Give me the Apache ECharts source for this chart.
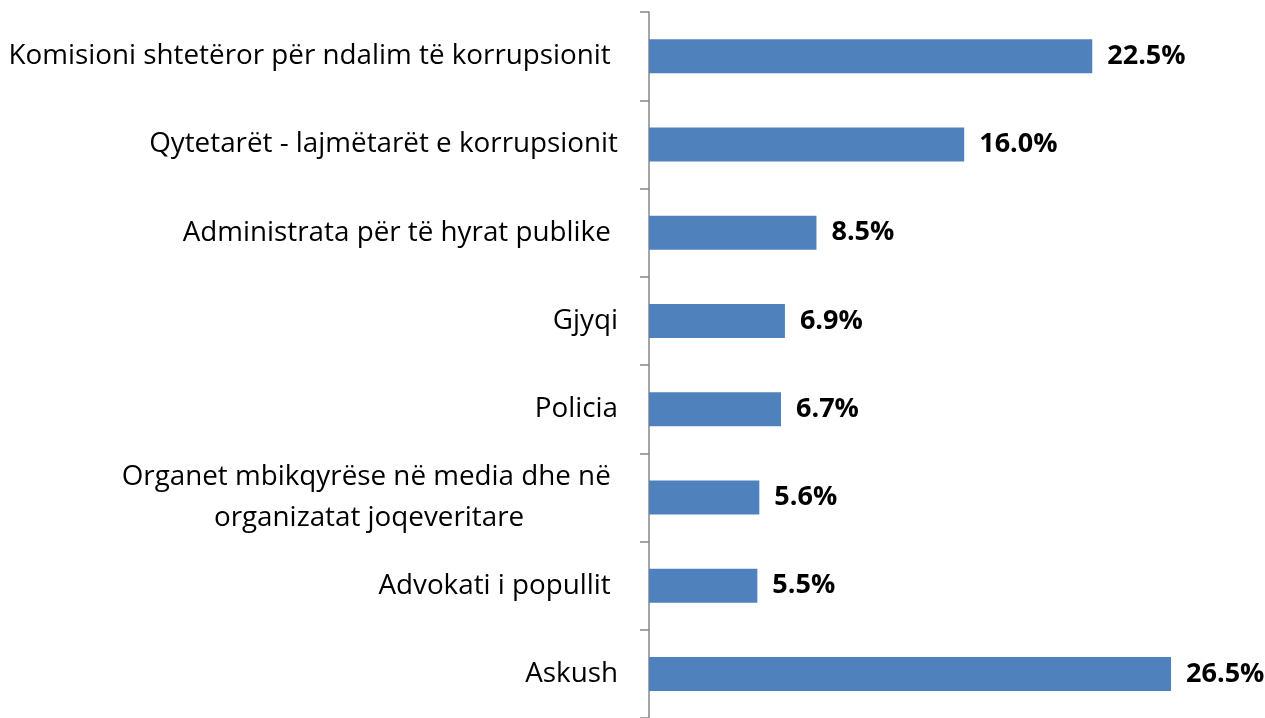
<!DOCTYPE html>
<html>
<head>
<meta charset="utf-8">
<script src="https://cdn.jsdelivr.net/npm/echarts@6/dist/echarts.min.js"></script>
<style>
  html, body { margin: 0; padding: 0; background: #fff; }
  #chart { width: 1265px; height: 718px; }
</style>
</head>
<body>
<div id="chart"></div>
<script>
// categories top to bottom, as in the picture
const categories = [
  'Komisioni shtetëror për ndalim të korrupsionit ',
  'Qytetarët - lajmëtarët e korrupsionit',
  'Administrata për të hyrat publike ',
  'Gjyqi',
  'Policia',
  'Organet mbikqyrëse në media dhe në \norganizatat joqeveritare             ',
  'Advokati i popullit ',
  'Askush'
]
const values = [22.5, 16.0, 8.5, 6.9, 6.7, 5.6, 5.5, 26.5]

const chart = echarts.init(document.getElementById('chart'))

let option = {
  animation: false,
  grid: {
    left: 649,
    right: 25,
    top: 12,
    bottom: 0
  },
  xAxis: {
    type: 'value',
    min: 0,
    max: 30,
    show: false
  },
  yAxis: {
    type: 'category',
    inverse: true,
    data: categories,
    axisLine: {
      show: true,
      lineStyle: { color: '#878787', width: 1.5 }
    },
    axisTick: {
      show: true,
      length: 9,
      lineStyle: { color: '#878787', width: 1.5 }
    },
    axisLabel: {
      margin: 31,
      color: '#000',
      fontFamily: 'Open Sans',
      fontSize: 27.8,
      lineHeight: 41
    }
  },
  series: [
    {
      type: 'bar',
      data: values,
      barWidth: 34,
      itemStyle: { color: '#4F81BD' },
      label: {
        show: true,
        position: 'right',
        distance: 15,
        color: '#000',
        fontFamily: 'Open Sans',
        fontWeight: 'bold',
        fontSize: 27,
        formatter: p => p.value.toFixed(1) + '%'
      }
    }
  ]
}
chart.setOption(option)
</script>
</body>
</html>
